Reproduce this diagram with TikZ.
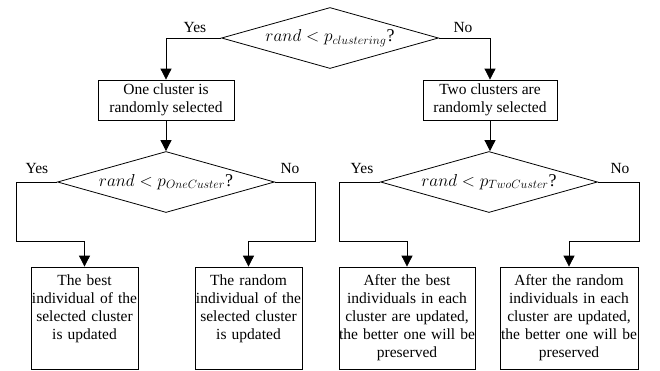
\documentclass[tikz,border=0pt]{standalone}
\usepackage{amsmath,amssymb}
\usepackage{fontspec}
\setmainfont{Liberation Serif}
\usetikzlibrary{shapes.geometric,arrows.meta}

\begin{document}
\begin{tikzpicture}[x=1pt,y=-1pt,
    font=\fontsize{15.5}{18}\selectfont,
    decision/.style={diamond,draw,thick,aspect=3.5,inner sep=0pt,minimum width=217pt,minimum height=61pt,font=\fontsize{18}{20}\selectfont},
    stepbox/.style={draw,thick,align=center,inner sep=0pt},
    leaf/.style={stepbox,minimum height=102pt,inner xsep=-6pt,text depth=76pt},
    arr/.style={thick,-{Triangle[width=11pt,length=11pt]}}]
    \useasboundingbox (0,0) rectangle (660,370);
    % first choice
    \node[decision] (d1) at (330,38) {$rand < p_{clustering}$?};
    \node[stepbox,minimum width=136pt,minimum height=40pt] (one) at (166,100) {One cluster is\\randomly selected};
    \node[stepbox,minimum width=134pt,minimum height=40pt] (two) at (490,100) {Two clusters are\\randomly selected};
    \draw[arr] (d1.west) -| (one.north);
    \draw[arr] (d1.east) -| (two.north);
    \node at (195,27) {Yes};
    \node at (463,27) {No};
    % second choices
    \node[decision] (d2) at (166,182) {$rand < p_{OneCuster}$?};
    \node[decision] (d3) at (489,182) {$rand < p_{TwoCuster}$?};
    \draw[arr] (one.south) -- (d2.north);
    \draw[arr] (two.south) -- (two.south |- d3.north);
    \node at (37,168) {Yes};
    \node at (290,168) {No};
    \node at (362,168) {Yes};
    \node at (620,168) {No};
    % results
    \node[leaf,text width=119pt] (best) at (84.5,318) {The best\\individual of the\\selected cluster\\is updated};
    \node[leaf,text width=119pt] (rnd) at (248.5,318) {The random\\individual of the\\selected cluster\\is updated};
    \node[leaf,text width=148pt] (bestb) at (407,318) {After the best\\individuals in each\\cluster are updated,\\the better one will be\\preserved};
    \node[leaf,text width=150pt] (rndb) at (569,318) {After the random\\individuals in each\\cluster are updated,\\the better one will be\\preserved};
    \draw[arr] (d2.west) -| (16,241) -| (best.north);
    \draw[arr] (d2.east) -| (315,241) -| (rnd.north);
    \draw[arr] (d3.west) -| (339,241) -| (bestb.north);
    \draw[arr] (d3.east) -| (639,241) -| (rndb.north);
\end{tikzpicture}
\end{document}
